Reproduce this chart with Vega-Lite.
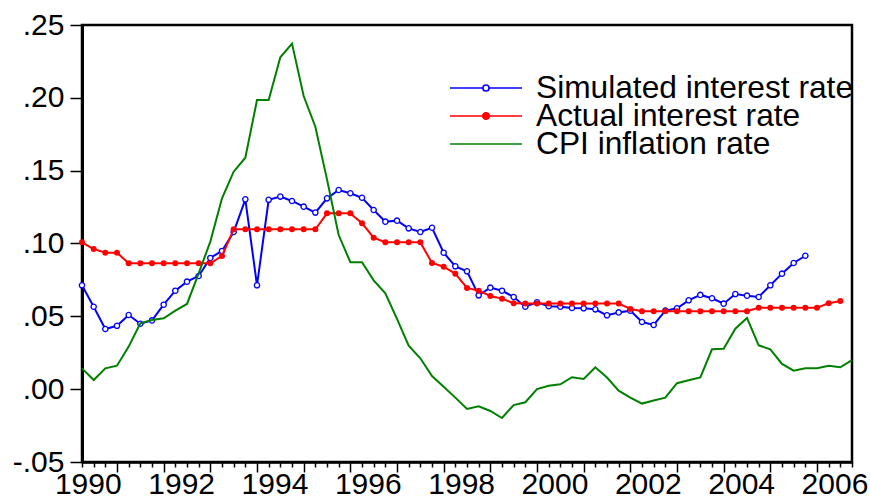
{
  "$schema": "https://vega.github.io/schema/vega-lite/v6.json",
  "width": 770,
  "height": 437,
  "autosize": {"type": "none"},
  "padding": {"left": 82, "top": 25, "right": 18, "bottom": 38},
  "background": "white",
  "config": {"view": {"stroke": "black", "strokeWidth": 2.5}, "font": "Liberation Sans"},
  "data": {"values": [
    {"t":1990.25,"sim":0.0713,"act":0.1008,"cpi":0.0143},
    {"t":1990.5,"sim":0.0566,"act":0.0962,"cpi":0.0063},
    {"t":1990.75,"sim":0.0413,"act":0.0937,"cpi":0.0143},
    {"t":1991,"sim":0.0435,"act":0.0937,"cpi":0.0161},
    {"t":1991.25,"sim":0.0509,"act":0.0864,"cpi":0.0292},
    {"t":1991.5,"sim":0.0449,"act":0.0864,"cpi":0.0452},
    {"t":1991.75,"sim":0.0472,"act":0.0864,"cpi":0.0475},
    {"t":1992,"sim":0.0580,"act":0.0864,"cpi":0.0487},
    {"t":1992.25,"sim":0.0676,"act":0.0864,"cpi":0.0539},
    {"t":1992.5,"sim":0.0738,"act":0.0864,"cpi":0.0585},
    {"t":1992.75,"sim":0.0777,"act":0.0864,"cpi":0.0795},
    {"t":1993,"sim":0.0901,"act":0.0864,"cpi":0.1013},
    {"t":1993.25,"sim":0.0949,"act":0.0914,"cpi":0.1310},
    {"t":1993.5,"sim":0.1079,"act":0.1097,"cpi":0.1493},
    {"t":1993.75,"sim":0.1303,"act":0.1097,"cpi":0.1589},
    {"t":1994,"sim":0.0713,"act":0.1097,"cpi":0.1985},
    {"t":1994.25,"sim":0.1300,"act":0.1097,"cpi":0.1985},
    {"t":1994.5,"sim":0.1322,"act":0.1097,"cpi":0.2278},
    {"t":1994.75,"sim":0.1292,"act":0.1097,"cpi":0.2372},
    {"t":1995,"sim":0.1253,"act":0.1097,"cpi":0.2012},
    {"t":1995.25,"sim":0.1212,"act":0.1097,"cpi":0.1802},
    {"t":1995.5,"sim":0.1310,"act":0.1207,"cpi":0.1440},
    {"t":1995.75,"sim":0.1367,"act":0.1207,"cpi":0.1058},
    {"t":1996,"sim":0.1345,"act":0.1207,"cpi":0.0872},
    {"t":1996.25,"sim":0.1314,"act":0.1139,"cpi":0.0872},
    {"t":1996.5,"sim":0.1230,"act":0.1040,"cpi":0.0747},
    {"t":1996.75,"sim":0.1150,"act":0.1008,"cpi":0.0658},
    {"t":1997,"sim":0.1157,"act":0.1008,"cpi":0.0482},
    {"t":1997.25,"sim":0.1104,"act":0.1008,"cpi":0.0298},
    {"t":1997.5,"sim":0.1079,"act":0.1008,"cpi":0.0212},
    {"t":1997.75,"sim":0.1108,"act":0.0866,"cpi":0.0090},
    {"t":1998,"sim":0.0937,"act":0.0841,"cpi":0.0017},
    {"t":1998.25,"sim":0.0843,"act":0.0793,"cpi":-0.0058},
    {"t":1998.5,"sim":0.0809,"act":0.0695,"cpi":-0.0136},
    {"t":1998.75,"sim":0.0644,"act":0.0676,"cpi":-0.0117},
    {"t":1999,"sim":0.0697,"act":0.0640,"cpi":-0.0150},
    {"t":1999.25,"sim":0.0676,"act":0.0621,"cpi":-0.0198},
    {"t":1999.5,"sim":0.0633,"act":0.0590,"cpi":-0.0109},
    {"t":1999.75,"sim":0.0566,"act":0.0588,"cpi":-0.0090},
    {"t":2000,"sim":0.0596,"act":0.0588,"cpi":0.0001},
    {"t":2000.25,"sim":0.0569,"act":0.0588,"cpi":0.0024},
    {"t":2000.5,"sim":0.0566,"act":0.0588,"cpi":0.0033},
    {"t":2000.75,"sim":0.0557,"act":0.0588,"cpi":0.0082},
    {"t":2001,"sim":0.0555,"act":0.0588,"cpi":0.0070},
    {"t":2001.25,"sim":0.0548,"act":0.0588,"cpi":0.0150},
    {"t":2001.5,"sim":0.0507,"act":0.0588,"cpi":0.0080},
    {"t":2001.75,"sim":0.0527,"act":0.0588,"cpi":-0.0010},
    {"t":2002,"sim":0.0539,"act":0.0551,"cpi":-0.0058},
    {"t":2002.25,"sim":0.0461,"act":0.0535,"cpi":-0.0099},
    {"t":2002.5,"sim":0.0441,"act":0.0535,"cpi":-0.0078},
    {"t":2002.75,"sim":0.0539,"act":0.0535,"cpi":-0.0058},
    {"t":2003,"sim":0.0555,"act":0.0535,"cpi":0.0041},
    {"t":2003.25,"sim":0.0610,"act":0.0535,"cpi":0.0061},
    {"t":2003.5,"sim":0.0647,"act":0.0535,"cpi":0.0081},
    {"t":2003.75,"sim":0.0624,"act":0.0535,"cpi":0.0274},
    {"t":2004,"sim":0.0587,"act":0.0535,"cpi":0.0278},
    {"t":2004.25,"sim":0.0653,"act":0.0535,"cpi":0.0415},
    {"t":2004.5,"sim":0.0642,"act":0.0535,"cpi":0.0489},
    {"t":2004.75,"sim":0.0633,"act":0.0559,"cpi":0.0301},
    {"t":2005,"sim":0.0713,"act":0.0559,"cpi":0.0274},
    {"t":2005.25,"sim":0.0793,"act":0.0559,"cpi":0.0173},
    {"t":2005.5,"sim":0.0866,"act":0.0559,"cpi":0.0127},
    {"t":2005.75,"sim":0.0916,"act":0.0559,"cpi":0.0143},
    {"t":2006,"sim":null,"act":0.0559,"cpi":0.0143},
    {"t":2006.25,"sim":null,"act":0.0590,"cpi":0.0161},
    {"t":2006.5,"sim":null,"act":0.0605,"cpi":0.0150},
    {"t":2006.75,"sim":null,"act":null,"cpi":0.0200}
  ]},
  "encoding": {
    "x": {
      "field": "t", "type": "quantitative",
      "scale": {"domain": [1990.25, 2006.75], "nice": false, "zero": false},
      "axis": {
        "values": [1990.25,1990.5,1990.75,1991,1991.25,1991.5,1991.75,1992,1992.25,1992.5,1992.75,1993,1993.25,1993.5,1993.75,1994,1994.25,1994.5,1994.75,1995,1995.25,1995.5,1995.75,1996,1996.25,1996.5,1996.75,1997,1997.25,1997.5,1997.75,1998,1998.25,1998.5,1998.75,1999,1999.25,1999.5,1999.75,2000,2000.25,2000.5,2000.75,2001,2001.25,2001.5,2001.75,2002,2002.25,2002.5,2002.75,2003,2003.25,2003.5,2003.75,2004,2004.25,2004.5,2004.75,2005,2005.25,2005.5,2005.75,2006,2006.25,2006.5,2006.75],
        "title": null, "grid": false,
        "domainColor": "black", "domainWidth": 2.5,
        "tickColor": "black", "tickWidth": 1.5,
        "tickSize": {"condition": {"test": "datum.value % 1 === 0", "value": 10}, "value": 5},
        "labelExpr": "datum.value % 2 === 0.25 ? '' + floor(datum.value) : ''",
        "labelOffset": 5.8,
        "labelFontSize": 30, "labelColor": "black", "labelFont": "Liberation Sans",
        "labelPadding": 2, "labelFlush": false, "labelOverlap": false, "labelBound": false
      }
    }
  },
  "layer": [
    {
      "mark": {"type": "line", "strokeWidth": 2},
      "encoding": {
        "y": {
          "field": "sim", "type": "quantitative",
          "scale": {"domain": [-0.05, 0.25], "nice": false, "zero": false},
          "axis": {
            "values": [-0.05, 0, 0.05, 0.1, 0.15, 0.2, 0.25],
            "labelExpr": "(datum.value < 0 ? '-' : '') + replace(format(abs(datum.value), '.2f'), '0.', '.')",
            "title": null, "grid": false,
            "domainColor": "black", "domainWidth": 3,
            "tickColor": "black", "tickWidth": 1.5, "tickSize": 12,
            "labelFontSize": 30, "labelColor": "black", "labelFont": "Liberation Sans",
            "labelPadding": 6, "labelOverlap": false, "labelFlush": false
          }
        },
        "color": {
          "datum": "Simulated interest rate", "type": "nominal",
          "scale": {"domain": ["Simulated interest rate"], "range": ["#0000ff"]},
          "legend": {
            "orient": "none", "legendX": 367, "legendY": 50, "title": null, "padding": 0,
            "clipHeight": 26,
            "symbolSize": 5184, "symbolStrokeWidth": 1.6,
            "symbolType": "M-1,0H-0.085M0.085,0H1M0.085,0A0.085,0.085,0,1,1,-0.085,0A0.085,0.085,0,1,1,0.085,0Z",
            "symbolFillColor": "#ffffff", "symbolStrokeColor": "#0000ff",
            "labelFontSize": 31.7, "labelFont": "Liberation Sans", "labelColor": "black", "labelOffset": 13, "labelLimit": 0
          }
        }
      }
    },
    {
      "mark": {"type": "point", "filled": false, "fill": "white", "stroke": "#0000ff", "strokeWidth": 1.3, "size": 28, "opacity": 1},
      "encoding": {"y": {"field": "sim", "type": "quantitative", "title": null}}
    },
    {
      "mark": {"type": "line", "strokeWidth": 2, "color": "#ff0000"},
      "encoding": {
        "y": {"field": "act", "type": "quantitative", "title": null},
        "strokeDash": {
          "datum": "Actual interest rate", "type": "nominal",
          "scale": {"domain": ["Actual interest rate"], "range": [[1, 0]]},
          "legend": {
            "orient": "none", "legendX": 367, "legendY": 78, "title": null, "padding": 0,
            "clipHeight": 26,
            "symbolSize": 5184, "symbolStrokeWidth": 1.6,
            "symbolType": "M-1,0H1M0.09,0A0.09,0.09,0,1,1,-0.09,0A0.09,0.09,0,1,1,0.09,0Z",
            "symbolFillColor": "#ff0000", "symbolStrokeColor": "#ff0000",
            "labelFontSize": 31.7, "labelFont": "Liberation Sans", "labelColor": "black", "labelOffset": 13, "labelLimit": 0
          }
        }
      }
    },
    {
      "mark": {"type": "circle", "color": "#ff0000", "size": 36, "opacity": 1},
      "encoding": {"y": {"field": "act", "type": "quantitative", "title": null}}
    },
    {
      "mark": {"type": "line", "strokeWidth": 2},
      "encoding": {
        "y": {"field": "cpi", "type": "quantitative", "title": null},
        "stroke": {
          "datum": "CPI inflation rate", "type": "nominal",
          "scale": {"domain": ["CPI inflation rate"], "range": ["#008000"]},
          "legend": {
            "orient": "none", "legendX": 367, "legendY": 106, "title": null, "padding": 0,
            "clipHeight": 26,
            "symbolSize": 5184, "symbolStrokeWidth": 1.6,
            "symbolType": "M-1,0H1",
            "symbolStrokeColor": "#008000",
            "labelFontSize": 31.7, "labelFont": "Liberation Sans", "labelColor": "black", "labelOffset": 13, "labelLimit": 0
          }
        }
      }
    }
  ]
}
